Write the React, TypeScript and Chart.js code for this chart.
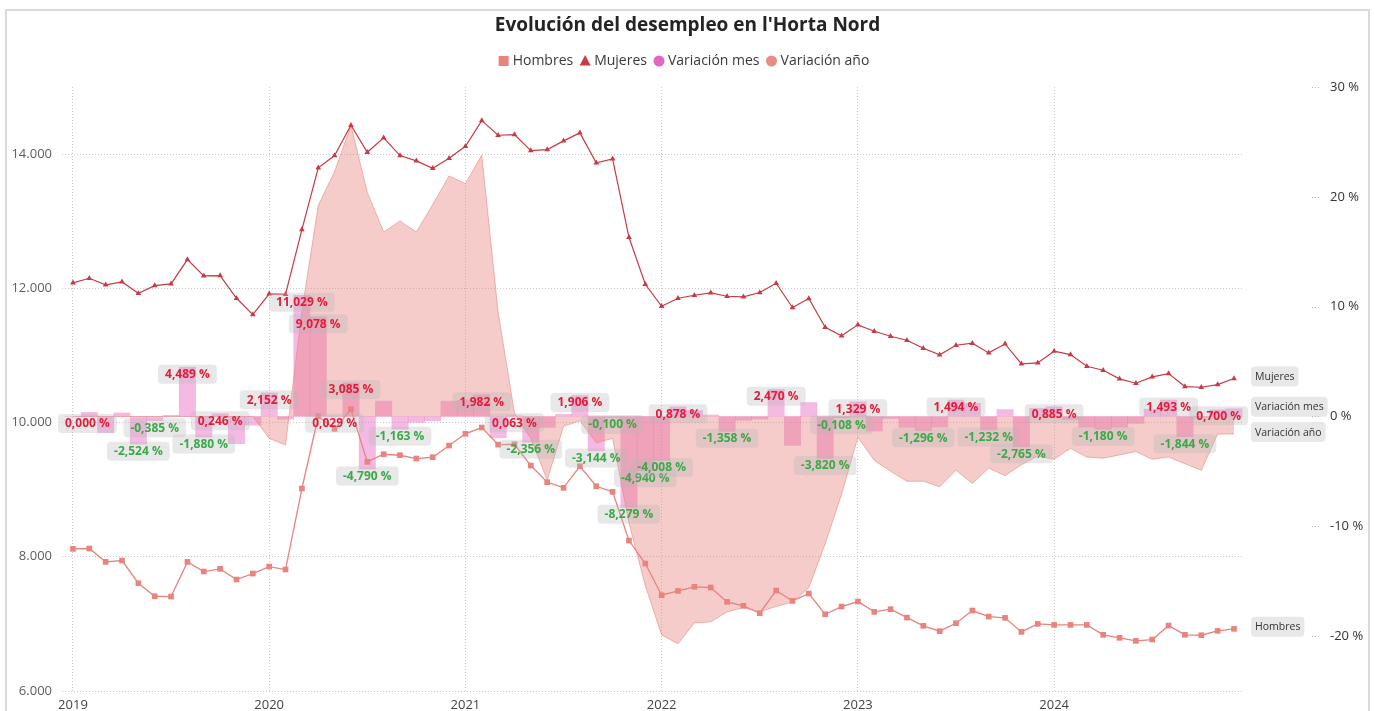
import React, { useEffect, useRef } from 'react';
import { Chart, registerables } from 'chart.js';

Chart.register(...registerables);

const FONT = "'Segoe UI', 'Open Sans', sans-serif";

const titleText = "Evolución del desempleo en l'Horta Nord";
const yearLabels = ['2019', '2020', '2021', '2022', '2023', '2024'];
const monthIdx = Array.from({ length: 72 }, (_, i) => i);

const hombres = [
  8118, 8123, 7924, 7944, 7606, 7412, 7407, 7924, 7780, 7820, 7661, 7750,
  7854, 7810, 9017, 10094, 9906, 10198, 9414, 9528, 9513, 9464, 9483, 9657,
  9832, 9926, 9672, 9677, 9359, 9111, 9027, 9349, 9051, 8967, 8242, 7899,
  7427, 7492, 7552, 7542, 7328, 7269, 7159, 7497, 7343, 7452, 7144, 7258,
  7333, 7179, 7219, 7094, 6971, 6891, 7010, 7199, 7109, 7090, 6881, 7000,
  6985, 6985, 6985, 6837, 6792, 6747, 6767, 6975, 6837, 6831, 6896, 6926,
];

const mujeres = [
  12081, 12150, 12052, 12096, 11927, 12041, 12066, 12429, 12186, 12190, 11852, 11609,
  11917, 11912, 12876, 13795, 13978, 14430, 14028, 14242, 13978, 13899, 13789, 13938,
  14117, 14500, 14281, 14291, 14053, 14068, 14197, 14316, 13869, 13929, 12761, 12061,
  11733, 11852, 11897, 11932, 11882, 11873, 11937, 12076, 11714, 11848, 11420, 11292,
  11456, 11360, 11286, 11226, 11107, 11009, 11152, 11182, 11038, 11172, 10874, 10889,
  11063, 11013, 10839, 10779, 10651, 10586, 10681, 10730, 10536, 10526, 10566, 10656,
];

const variacionMes = [
  0, 0.37, -1.47, 0.32, -2.524, -0.385, 0.1, 4.489, -1.88, 0.246, -2.48, -0.79,
  2.152, -0.25, 11.029, 9.078, 0.029, 3.085, -4.79, 1.4, -1.163, -0.54, -0.39, 1.39,
  1.48, 1.982, -1.94, 0.063, -2.356, -1.0, 0.19, 1.906, -3.144, -0.1, -8.279, -4.94,
  -4.008, 0.878, 0.54, 0.13, -1.358, -0.35, -0.24, 2.47, -2.64, 1.27, -3.82, -0.108,
  1.329, -1.33, -0.18, -1.0, -1.296, -0.98, 1.494, 1.2, -1.232, 0.63, -2.765, 0.75,
  0.885, -0.28, -0.97, -1.18, -0.98, -0.63, 0.66, 1.493, -1.844, -0.09, 0.6, 0.7,
];

const variacionAno = [
  0, 0, 0, 0, 0, 0, 0, 0, 0, 0, 0, 0,
  -2.0, -2.6, 9.6, 19.2, 22.3, 26.5, 20.4, 16.8, 17.8, 16.8, 19.3, 21.9,
  21.2, 23.8, 9.5, 0.3, -2.0, -5.8, -0.9, -0.4, -2.4, -2.0, -9.7, -15.4,
  -19.9, -20.7, -18.8, -18.7, -17.8, -17.4, -17.8, -17.3, -16.9, -15.6, -11.6, -7.1,
  -1.9, -4.0, -5.0, -5.9, -5.9, -6.4, -4.9, -6.1, -4.7, -5.4, -4.4, -3.6,
  -3.9, -2.9, -3.7, -3.8, -3.5, -3.2, -3.9, -3.7, -4.3, -4.9, -1.6, -1.6,
];

// months whose "Variación mes" value carries a data label
const labeledMes = [0, 4, 5, 7, 8, 9, 12, 14, 15, 16, 17, 18, 20, 25, 27, 28, 31, 32, 33, 34, 35, 36, 37, 40, 43, 46, 47, 48, 52, 54, 56, 58, 60, 63, 67, 68, 71];

const leftTicks = [6000, 8000, 10000, 12000, 14000];
const rightTicks = [-20, -10, 0, 10, 20, 30];

const C_HOMBRES = '#e8837e';
const C_MUJERES = '#c63b44';
const C_MES_LEGEND = '#e466c0';
const C_ANO_LEGEND = '#ea8b86';
const GRID = '#c9c9c9';

const legendItems = [
  { text: 'Hombres', shape: 'rect', color: C_HOMBRES },
  { text: 'Mujeres', shape: 'triangle', color: C_MUJERES },
  { text: 'Variación mes', shape: 'circle', color: C_MES_LEGEND },
  { text: 'Variación año', shape: 'circle', color: C_ANO_LEGEND },
];

const fmtThousands = (v: number) => String(v).replace(/\B(?=(\d{3})+(?!\d))/g, '.');
const fmtPct = (v: number) => v.toFixed(3).replace('.', ',') + ' %';

function roundRect(ctx: CanvasRenderingContext2D, x: number, y: number, w: number, h: number, r: number) {
  ctx.beginPath();
  ctx.moveTo(x + r, y);
  ctx.lineTo(x + w - r, y);
  ctx.quadraticCurveTo(x + w, y, x + w, y + r);
  ctx.lineTo(x + w, y + h - r);
  ctx.quadraticCurveTo(x + w, y + h, x + w - r, y + h);
  ctx.lineTo(x + r, y + h);
  ctx.quadraticCurveTo(x, y + h, x, y + h - r);
  ctx.lineTo(x, y + r);
  ctx.quadraticCurveTo(x, y, x + r, y);
  ctx.closePath();
}

const overlayPlugin = {
  id: 'overlay',
  beforeDraw(chart: any) {
    // series end labels (drawn first so the right-axis texts stay on top)
    const ctx: CanvasRenderingContext2D = chart.ctx;
    const area = chart.chartArea;
    const yl = chart.scales.y;
    const yr = chart.scales.y1;
    const last = monthIdx.length - 1;
    const endLabels = [
      { text: 'Mujeres', y: yl.getPixelForValue(mujeres[last]) },
      { text: 'Variación mes', y: yr.getPixelForValue(variacionMes[last]) },
      { text: 'Variación año', y: yr.getPixelForValue(variacionAno[last]) },
      { text: 'Hombres', y: yl.getPixelForValue(hombres[last]) },
    ];
    ctx.save();
    ctx.font = `10.5px ${FONT}`;
    ctx.textAlign = 'left';
    ctx.textBaseline = 'middle';
    endLabels.forEach((l) => {
      const tw = ctx.measureText(l.text).width;
      const w = tw + 8;
      const h = 20;
      const bx = area.right + 8;
      const cy = l.y - 2;
      ctx.fillStyle = '#e8e8e8';
      roundRect(ctx, bx, cy - h / 2, w, h, 4);
      ctx.fill();
      ctx.fillStyle = '#333333';
      ctx.fillText(l.text, bx + 4, cy + 0.5);
    });
    ctx.restore();
  },
  afterDraw(chart: any) {
    const ctx: CanvasRenderingContext2D = chart.ctx;
    const area = chart.chartArea;
    const xs = chart.scales.x;
    const yr = chart.scales.y1;
    ctx.save();

    // small dotted tick marks on right axis
    ctx.strokeStyle = '#b5b5b5';
    ctx.lineWidth = 1;
    ctx.setLineDash([1, 2]);
    rightTicks.forEach((t) => {
      const y = Math.round(yr.getPixelForValue(t)) + 0.5;
      ctx.beginPath();
      ctx.moveTo(area.right + 69, y);
      ctx.lineTo(area.right + 78, y);
      ctx.stroke();
    });
    ctx.setLineDash([]);

    // data labels for Variación mes
    ctx.font = `bold 12px ${FONT}`;
    ctx.textBaseline = 'middle';
    ctx.textAlign = 'center';
    labeledMes.forEach((i) => {
      const v = variacionMes[i];
      const text = fmtPct(v);
      const tw = ctx.measureText(text).width;
      const w = tw + 14;
      const h = 19;
      const cx = xs.getPixelForValue(i);
      const cy = yr.getPixelForValue(v) + 7;
      let bx = cx - w / 2;
      bx = Math.max(bx, area.left - 4);
      bx = Math.min(bx, area.right + 5 - w);
      ctx.fillStyle = 'rgba(185,185,185,0.32)';
      roundRect(ctx, bx, cy - h / 2, w, h, 4);
      ctx.fill();
      ctx.fillStyle = v >= 0 ? '#e51b3a' : '#3aa948';
      ctx.fillText(text, bx + w / 2, cy + 0.5);
    });

    // legend
    ctx.font = `14px ${FONT}`;
    ctx.textAlign = 'left';
    const mk = 10;
    const gapM = 4;
    const gapI = 7;
    const widths = legendItems.map((it) => mk + gapM + ctx.measureText(it.text).width);
    const total = widths.reduce((a, b) => a + b, 0) + gapI * (legendItems.length - 1);
    let x = 684 - total / 2;
    const y = 61;
    legendItems.forEach((it, k) => {
      ctx.fillStyle = it.color;
      const mx = x + mk / 2;
      if (it.shape === 'rect') {
        ctx.fillRect(x, y - 5, 10, 10);
      } else if (it.shape === 'triangle') {
        ctx.beginPath();
        ctx.moveTo(mx, y - 6);
        ctx.lineTo(mx + 5.5, y + 4.5);
        ctx.lineTo(mx - 5.5, y + 4.5);
        ctx.closePath();
        ctx.fill();
      } else {
        ctx.beginPath();
        ctx.arc(mx, y, 5.5, 0, Math.PI * 2);
        ctx.fill();
      }
      ctx.fillStyle = '#3b3a39';
      ctx.fillText(it.text, x + mk + gapM, y + 0.5);
      x += widths[k] + gapI;
    });

    ctx.restore();
  },
};

export default function App() {
  const ref = useRef<HTMLCanvasElement>(null);

  useEffect(() => {
    const canvas = ref.current;
    if (!canvas) return;
    const chart = new Chart(canvas, {
      type: 'line',
      data: {
        labels: monthIdx,
        datasets: [
          {
            type: 'line',
            label: 'Hombres',
            data: hombres,
            yAxisID: 'y',
            borderColor: C_HOMBRES,
            backgroundColor: C_HOMBRES,
            pointBackgroundColor: C_HOMBRES,
            pointBorderColor: C_HOMBRES,
            borderWidth: 1.3,
            pointStyle: 'rect',
            pointRadius: 4,
            pointBorderWidth: 0,
            tension: 0,
            fill: false,
            order: 0,
          },
          {
            type: 'line',
            label: 'Mujeres',
            data: mujeres,
            yAxisID: 'y',
            borderColor: C_MUJERES,
            backgroundColor: C_MUJERES,
            pointBackgroundColor: C_MUJERES,
            pointBorderColor: C_MUJERES,
            borderWidth: 1.2,
            pointStyle: 'triangle',
            pointRadius: 3.3,
            pointBorderWidth: 0,
            tension: 0,
            fill: false,
            order: 0,
          },
          {
            type: 'bar',
            label: 'Variación mes',
            data: variacionMes,
            yAxisID: 'y1',
            backgroundColor: 'rgba(232,102,192,0.45)',
            borderWidth: 0,
            barPercentage: 1,
            categoryPercentage: 1,
            order: 2,
          },
          {
            type: 'line',
            label: 'Variación año',
            data: variacionAno,
            yAxisID: 'y1',
            borderColor: 'rgba(230,128,122,0.55)',
            backgroundColor: 'rgba(230,128,122,0.4)',
            borderWidth: 1,
            pointRadius: 0,
            tension: 0,
            fill: 'origin',
            order: 1,
          },
        ],
      } as any,
      options: {
        responsive: false,
        animation: false,
        events: [],
        layout: { padding: 0 },
        plugins: {
          legend: { display: false },
          tooltip: { enabled: false },
          title: {
            display: true,
            text: titleText,
            color: '#252423',
            font: { family: FONT, size: 19, weight: 'bold' },
            padding: { top: 14, bottom: 50.2 },
          },
        },
        scales: {
          x: {
            type: 'linear',
            min: -0.67,
            max: 71.55,
            offset: false,
            afterBuildTicks: (s: any) => {
              s.ticks = yearLabels.map((_, k) => ({ value: k * 12 }));
            },
            afterFit: (s: any) => {
              s.height = 20;
            },
            ticks: {
              callback: (v: any) => yearLabels[Math.round(Number(v) / 12)],
              color: '#444444',
              font: { family: FONT, size: 13 },
              padding: 6,
              maxRotation: 0,
              autoSkip: false,
            },
            grid: { color: GRID, drawTicks: false, offset: false, lineWidth: 1 },
            border: { display: false, dash: [1, 2] },
          },
          y: {
            type: 'linear',
            position: 'left',
            min: 6000,
            max: 15000,
            afterBuildTicks: (s: any) => {
              s.ticks = leftTicks.map((v) => ({ value: v }));
            },
            afterFit: (s: any) => {
              s.width = 62;
              s.paddingTop = 0;
              s.paddingBottom = 0;
            },
            ticks: {
              callback: (v: any) => fmtThousands(Number(v)),
              color: '#605e5c',
              font: { family: FONT, size: 13 },
              padding: 10,
            },
            grid: { color: GRID, drawTicks: false, lineWidth: 1 },
            border: { display: false, dash: [1, 2] },
          },
          y1: {
            type: 'linear',
            position: 'right',
            min: -25,
            max: 30,
            afterBuildTicks: (s: any) => {
              s.ticks = rightTicks.map((v) => ({ value: v }));
            },
            afterFit: (s: any) => {
              s.width = 132;
              s.paddingTop = 0;
              s.paddingBottom = 0;
            },
            ticks: {
              callback: (v: any) => `${v} %`,
              color: '#333333',
              font: { family: FONT, size: 13 },
              padding: 87,
            },
            grid: { display: false, drawTicks: false },
            border: { display: false },
          },
        },
      } as any,
      plugins: [overlayPlugin],
    });
    return () => chart.destroy();
  }, []);

  return (
    <div style={{ position: 'fixed', left: 0, top: 0, width: 1375, height: 711, background: '#ffffff' }}>
      <canvas ref={ref} width={1375} height={711} style={{ display: 'block', width: 1375, height: 711 }} />
      <div
        style={{
          position: 'absolute',
          left: 5,
          top: 9,
          width: 1361,
          height: 720,
          border: '2px solid #d9d9d9',
          pointerEvents: 'none',
        }}
      />
    </div>
  );
}
